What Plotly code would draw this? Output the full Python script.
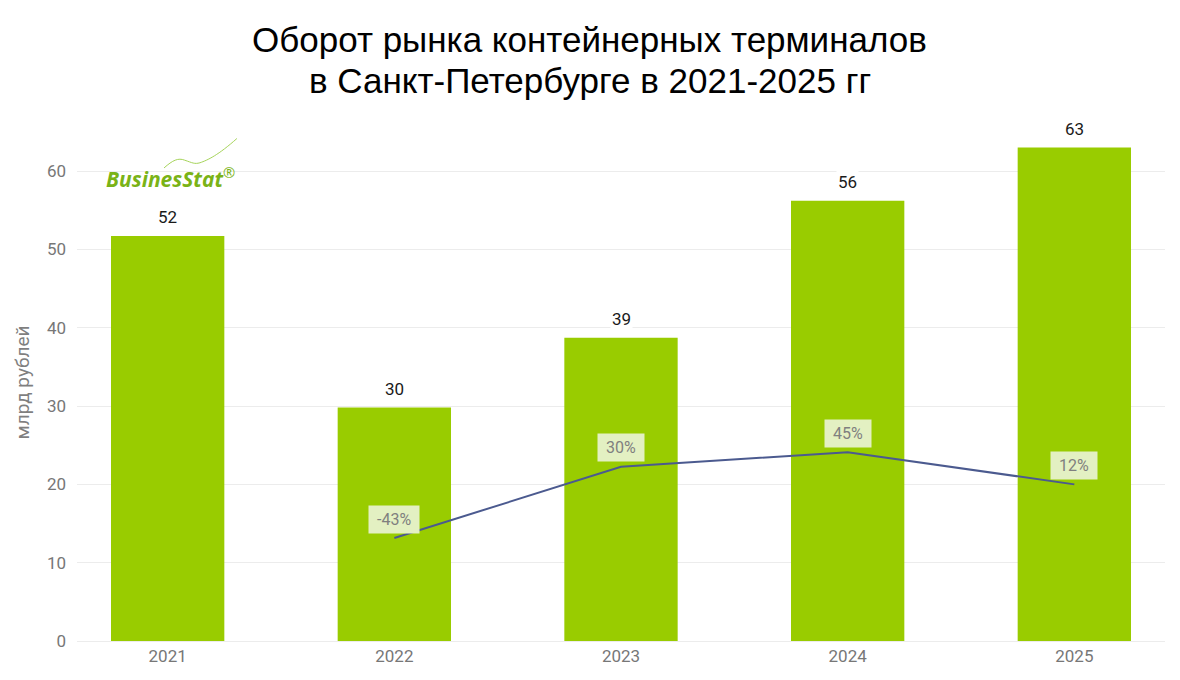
import plotly.graph_objects as go

# data
years = ['2021', '2022', '2023', '2024', '2025']
turnover = [51.7, 29.8, 38.7, 56.2, 63.0]
turnover_labels = ['52', '30', '39', '56', '63']
growth_years = ['2022', '2023', '2024', '2025']
growth = [-43, 30, 45, 12]
growth_labels = ['-43%', '30%', '45%', '12%']
title_lines = ['Оборот рынка контейнерных терминалов', 'в Санкт-Петербурге в 2021-2025 гг']

fig = go.Figure()

fig.add_trace(go.Bar(
    x=years, y=turnover,
    marker=dict(color='#99CC00', line=dict(width=0)),
    width=0.5,
))

fig.add_trace(go.Scatter(
    x=growth_years, y=growth, yaxis='y2',
    mode='lines', line=dict(color='#4B5A8F', width=2),
))

# value labels above the bars (category axis -> annotations use the category index)
for yr, v, lab in zip(years, turnover, turnover_labels):
    fig.add_annotation(
        x=years.index(yr), y=v, text=lab, showarrow=False, yanchor='bottom', yshift=7,
        font=dict(family='Roboto', size=17, color='#1a1a1a'),
        bgcolor='white',
    )

# growth labels above the line
for yr, g, lab in zip(growth_years, growth, growth_labels):
    fig.add_annotation(
        x=years.index(yr), y=g, yref='y2', text='&nbsp;' + lab + '&nbsp;',
        showarrow=False, yshift=19,
        font=dict(family='Roboto', size=16, color='#7f7f7f'),
        bgcolor='#E3F0C2', borderpad=4,
    )

# title, two lines placed separately to get the tighter line spacing
for line, ypos in zip(title_lines, [1.1625, 1.085]):
    fig.add_annotation(
        xref='paper', yref='paper', x=0.4715, y=ypos, xanchor='center', yanchor='middle',
        text=line, showarrow=False,
        font=dict(family='Liberation Sans', size=35, color='#000000'),
    )

# logo
fig.add_annotation(
    xref='paper', yref='paper', x=0.0855, y=0.896, xanchor='center', yanchor='middle',
    text='<b><i>BusinesStat</i></b><sup>®</sup>', showarrow=False,
    font=dict(family='Open Sans', size=21, color='#7AB317'),
)
fig.add_shape(
    type='path', xref='paper', yref='paper', line=dict(color='#A6D45A', width=1),
    path='M 0.08,0.915 C 0.088,0.93 0.093,0.935 0.099,0.93 '
         'C 0.106,0.925 0.108,0.922 0.113,0.925 C 0.12,0.93 0.13,0.94 0.147,0.972',
)

fig.update_layout(
    width=1180, height=680,
    paper_bgcolor='white', plot_bgcolor='white',
    margin=dict(l=69, r=23, t=116, b=47),
    showlegend=False,
    xaxis=dict(
        type='category', range=[-0.4, 4.4],
        tickfont=dict(family='Roboto', size=17, color='#777777'),
        showgrid=False, showline=True, linecolor='#ececec', linewidth=1,
        ticks='',
    ),
    yaxis=dict(
        range=[0, 66], tickvals=[0, 10, 20, 30, 40, 50, 60],
        tickfont=dict(family='Roboto', size=17, color='#777777'),
        gridcolor='#ececec', gridwidth=1, zeroline=False,
        title=dict(text='млрд рублей', font=dict(family='Roboto', size=19, color='#7f7f7f'), standoff=12),
        ticks='', ticklabelstandoff=10,
    ),
    yaxis2=dict(
        overlaying='y', range=[-148.6, 381.5],
        showticklabels=False, showgrid=False, zeroline=False, showline=False, ticks='',
    ),
)

fig.write_html('out.html')
